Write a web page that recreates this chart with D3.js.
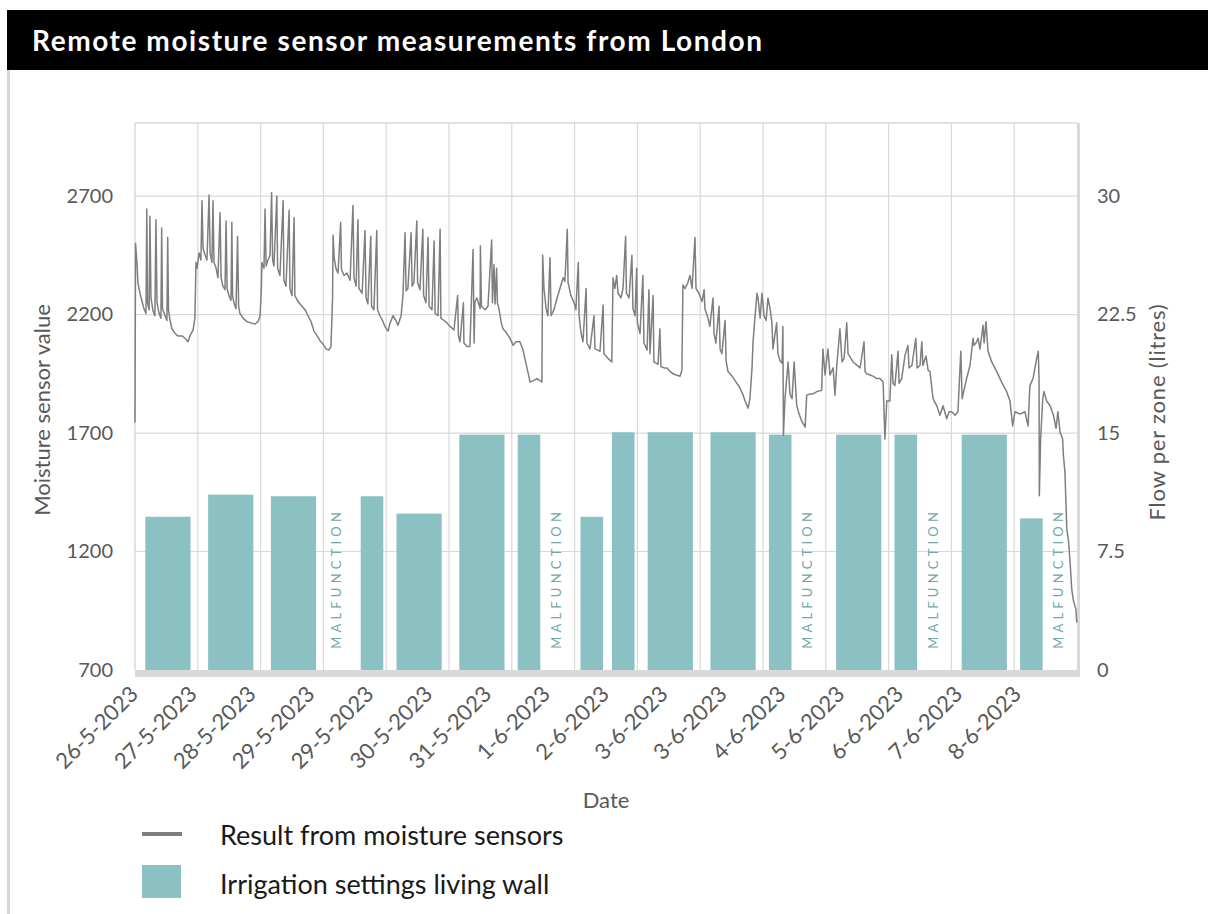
<!DOCTYPE html>
<html>
<head>
<meta charset="utf-8">
<script src="https://cdn.jsdelivr.net/npm/d3@7"></script>
<style>
  html, body { margin: 0; padding: 0; background: #ffffff; }
  svg { display: block; }
</style>
</head>
<body>
<svg id="chart" width="1208" height="914"></svg>
<script>
// ---------------- DATA ----------------
const chartTitle = "Remote moisture sensor measurements from London";
const leftTicks = [700, 1200, 1700, 2200, 2700];
const rightTicks = [0, 7.5, 15, 22.5, 30];
const rightTickLabels = ["0", "7.5", "15", "22.5", "30"];
const dateLabels = ["26-5-2023", "27-5-2023", "28-5-2023", "29-5-2023", "29-5-2023", "30-5-2023",
  "31-5-2023", "1-6-2023", "2-6-2023", "3-6-2023", "3-6-2023", "4-6-2023", "5-6-2023",
  "6-6-2023", "7-6-2023", "8-6-2023"];

// Moisture sensor readings: hours since 26-5-2023 00:00 and sensor value
const sensorHour = [
  0, 0.2, 0.8, 1.1, 1.9, 2.7, 3.4, 4.2, 4.5, 4.8, 5.4, 5.7, 6.1, 6.9, 7.6, 8.0, 8.4, 9.2, 9.9, 10.2,
  10.5, 11.5, 12.2, 12.5, 12.8, 13.4, 14.1, 15.3, 16.4, 18.0, 19.1, 20.3, 21.0, 22.2, 22.9, 23.3, 23.7,
  24.5, 25.2, 25.6, 26.0, 26.8, 27.5, 28.3, 28.7, 29.4, 29.8, 30.2, 31.0, 31.7, 32.5, 32.9, 33.6, 34.4,
  34.8, 35.2, 35.9, 36.7, 37.0, 37.3, 37.8, 38.6, 39.2, 39.6, 40.1, 41.3, 42.8, 44.3, 45.9, 47.0, 47.8,
  48.3, 48.5,
  49.3, 49.7, 50.1, 50.8, 51.6, 52.2, 52.6, 53.1, 54.2, 54.5, 55.4, 56.6, 56.9, 57.7, 58.9, 59.2, 60.0,
  60.8, 61.1, 62.3, 63.4, 65.0, 66.1, 67.3, 68.4, 69.6, 70.7, 71.9, 73.0, 74.1, 74.9, 75.5, 75.7,
  76.1, 76.8, 77.6, 78.6, 78.9, 79.9, 81.0, 82.2, 83.3, 83.7, 84.5, 85.2, 85.6, 86.8, 87.9, 88.3, 89.0,
  90.1, 90.4, 91.3, 92.4, 92.7, 93.6, 94.8, 95.5, 96.7, 97.5, 98.6, 99.7, 100.5, 101.7, 102.4,
  103.2, 103.6, 104.3, 105.5, 105.9, 106.6, 107.7, 108.0, 108.9, 110.0, 110.3, 111.2, 112.0, 112.4,
  113.5, 114.3, 114.7, 115.8, 116.6, 116.9, 118.1, 119.2, 120.4, 121.9, 123.3, 123.6, 124.2, 125.5,
  125.7, 126.9, 128.0, 129.2, 129.6, 129.9,
  130.7, 131.9, 132.0, 132.4, 133.8, 134.9, 136.3, 136.6, 137.2, 137.6, 138.2, 138.5, 139.1, 139.9,
  140.6, 141.8, 143.3, 144.5, 145.6, 147.1, 148.3, 149.8, 151.0, 152.1, 153.6, 154.8, 155.5, 155.8,
  156.3, 157.1, 157.8, 158.6, 159.0, 160.1, 161.3, 162.4, 163.6, 164.3, 165.2, 165.5, 166.6, 167.8,
  168.5, 169.4, 169.7, 170.5, 171.2, 172.4, 172.7, 173.9, 175.4, 175.8, 176.9, 177.7, 178.9, 179.2,
  180.0, 180.8, 182.2, 182.7,
  183.4, 184.1, 184.6, 185.7, 186.5, 187.5, 187.8, 188.8, 189.9, 190.3, 191.1, 191.7, 192.0, 193.0,
  194.1, 194.5, 195.7, 196.4, 196.8, 198.0, 198.3, 199.9, 200.6, 201.0, 202.2, 203.3, 204.5, 205.6,
  206.8, 208.3, 209.0, 209.4,
  210.2, 211.3, 212.1, 212.9, 214.0, 214.4, 215.5, 216.7, 217.5, 217.8, 219.0, 219.7, 220.9, 221.3,
  222.0, 223.2, 223.6, 224.3, 225.5, 225.9, 226.6, 228.2, 229.7, 231.2, 232.4, 233.5, 234.3, 235.0,
  235.8, 236.2, 236.9, 237.7, 238.1,
  238.9, 239.6, 240.4, 241.2, 241.9, 242.7, 243.4, 243.8, 245.2, 245.7, 246.5, 247.3, 247.6, 247.8,
  248.4, 249.6, 250.3, 251.1, 251.9, 252.9, 253.8, 254.8, 256.1, 256.7, 258.0, 259.1, 260.6, 262.4,
  262.9, 263.7, 264.8, 265.6, 266.8, 267.5, 268.2, 269.4, 270.2, 271.0, 272.0, 272.5, 274.4, 275.5,
  277.1, 278.6, 279.0, 279.6, 280.9, 282.0, 283.6, 284.7, 285.9, 286.6, 287.3, 288.5, 289.2, 289.7,
  290.4, 291.6, 292.0, 293.0, 294.3, 295.4, 295.8, 296.9, 298.4, 298.9, 300.0, 300.7, 301.1, 302.3,
  303.1, 303.8, 305.0, 306.4, 307.6, 308.8, 310.2, 311.1, 312.1, 313.4, 314.5, 315.6, 316.1, 317.8,
  319.1, 320.3, 320.6, 321.4, 322.2, 322.9, 324.1, 324.5, 325.2, 326.0, 327.4, 329.3, 331.2, 333.1,
  334.4, 335.4, 336.3, 338.2, 340.1, 341.3, 342.0, 343.2, 344.6, 345.2, 345.5, 345.6, 346.1, 346.9,
  347.4, 348.4, 349.7, 351.0, 352.0, 352.7, 353.5, 354.5, 354.8, 355.4, 356.1, 356.7, 357.3, 358.0,
  358.6, 359.6, 359.9
];
const sensorValue = [
  1745, 2500, 2410, 2335, 2290, 2255, 2225, 2205, 2645, 2250, 2220, 2615, 2270, 2215, 2195, 2600, 2250, 2205, 2185, 2565,
  2225, 2195, 2175, 2525, 2220, 2175, 2140, 2120, 2110, 2110, 2100, 2085, 2110, 2135, 2185, 2420, 2395,
  2460, 2430, 2680, 2480, 2450, 2430, 2705, 2460, 2420, 2680, 2420, 2395, 2355, 2630, 2355, 2320, 2305,
  2595, 2310, 2280, 2260, 2590, 2280, 2250, 2225, 2530, 2235, 2205, 2185, 2170, 2165, 2160, 2170, 2195,
  2310, 2420,
  2395, 2645, 2405, 2430, 2450, 2715, 2430, 2405, 2700, 2395, 2365, 2680, 2345, 2320, 2640, 2310, 2280,
  2610, 2280, 2255, 2240, 2220, 2195, 2170, 2130, 2110, 2090, 2075, 2055, 2050, 2065, 2270, 2535,
  2440, 2395, 2375, 2590, 2390, 2365, 2375, 2345, 2660, 2355, 2320, 2600, 2310, 2290, 2555, 2270, 2245,
  2530, 2235, 2220, 2555, 2220, 2195, 2170, 2150, 2130, 2165, 2195, 2175, 2155, 2195, 2280,
  2545, 2300, 2310, 2545, 2320, 2335, 2595, 2335, 2305, 2560, 2280, 2250, 2525, 2235,
  2220, 2510, 2205, 2195, 2560, 2185, 2175, 2165, 2150, 2135, 2280, 2110, 2085, 2250,
  2080, 2065, 2065, 2475, 2080, 2255,
  2270, 2225, 2490, 2235, 2220, 2235, 2515, 2250, 2410, 2245, 2395, 2250, 2225, 2170,
  2140, 2125, 2100, 2070, 2085, 2085, 2050, 1975, 1915, 1920, 1930, 1920, 1915, 2450,
  2310, 2225, 2195, 2440, 2195, 2220, 2270, 2310, 2355, 2340, 2560, 2335, 2280, 2250,
  2220, 2420, 2195, 2120, 2085, 2310, 2080, 2055, 2195, 2055, 2050, 2045, 2240, 2035,
  2025, 2015, 2000, 2355,
  2310, 2365, 2290, 2270, 2310, 2530, 2290, 2270, 2450, 2225, 2195, 2395, 2165, 2120,
  2365, 2080, 2050, 2305, 2035, 2280, 2000, 1990, 2140, 1980, 1975, 1975, 1960, 1950,
  1945, 1940, 1965, 2325,
  2310, 2335, 2365, 2310, 2525, 2310, 2290, 2255, 2305, 2225, 2185, 2150, 2270, 2120,
  2080, 2235, 2055, 2035, 2175, 2005, 1960, 1940, 1915, 1890, 1860, 1825, 1805, 1845,
  1975, 2085, 2185, 2290, 2270,
  2185, 2290, 2195, 2175, 2270, 2225, 2165, 2055, 2165, 2035, 2005, 1995, 2150, 1690,
  1845, 2000, 1865, 1845, 2000, 1815, 1780, 1750, 1725, 1860, 1865, 1865, 1875, 1880,
  2055, 1945, 2055, 1945, 1975, 1860, 1985, 2140, 2000, 2015, 2165, 2035, 2000, 1990,
  1975, 2085, 1960, 1950, 1945, 1940, 1930, 1930, 1915, 1675, 1835, 1835, 2030, 1910,
  1900, 2045, 1910, 1930, 2030, 2070, 1975, 1985, 2100, 1975, 1985, 2085, 1985, 2025,
  1965, 1960, 1845, 1815, 1775, 1815, 1760, 1790, 1790, 1775, 1790, 2045, 1845, 1930,
  1985, 2100, 2070, 2080, 2100, 2055, 2155, 2080, 2170, 2045, 2000, 1960, 1915, 1875,
  1835, 1730, 1790, 1780, 1790, 1730, 1900, 1930, 2015, 2045, 1930, 1435, 1675, 1845,
  1875, 1835, 1815, 1775, 1720, 1790, 1705, 1675, 1605, 1535, 1295, 1250, 1165, 1040,
  995, 955, 900
];

// Irrigation settings: bars laid out on half-day slots (slot 0 = morning of 26-5-2023)
const irrigationStartSlot = [0, 2, 4, 7, 8, 10, 12, 14, 15, 16, 18, 20, 22, 24, 26, 28];
const irrigationSlotSpan  = [2, 2, 2, 1, 2, 2, 1, 1, 1, 2, 2, 1, 2, 1, 2, 1];
const irrigationFlow      = [9.7, 11.1, 11.0, 11.0, 9.9, 14.9, 14.9, 9.7, 15.05, 15.05, 15.05, 14.9, 14.9, 14.9, 14.9, 9.6];
const malfunctionSlot = [6, 13, 21, 25, 29];
const malfunctionText = "MALFUNCTION";

const legendLabels = ["Result from moisture sensors", "Irrigation settings living wall"];

// ---------------- LAYOUT ----------------
const W = 1208, H = 914;
const plot = { left: 135, right: 1077, top: 125, bottom: 670 };
const totalHours = 360, slotCount = 30, dayCount = 15;
const FONT = "Lato, 'Open Sans', sans-serif";
const AXIS_TEXT = "#595959";
const GRID = "#d9d9d9";
const BAR = "#8cc1c3";
const LINE = "#7f7f7f";

const svg = d3.select("#chart");

// frame: title bar and left border
svg.append("rect").attr("x", 7).attr("y", 10).attr("width", W - 7).attr("height", 60).attr("fill", "#000");
svg.append("text").attr("x", 32).attr("y", 51)
  .attr("fill", "#fff").attr("font-family", "Lato, 'DejaVu Sans', sans-serif")
  .attr("font-weight", 700).attr("font-size", 28)
  .attr("textLength", 730).attr("lengthAdjust", "spacing").text(chartTitle);
svg.append("rect").attr("x", 7).attr("y", 70).attr("width", 3).attr("height", H - 70).attr("fill", "#d6d6d6");

// scales
const x = d3.scaleLinear().domain([0, totalHours]).range([plot.left, plot.right]);
const yL = d3.scaleLinear().domain([700, 3000]).range([plot.bottom, plot.top]);
const yR = d3.scaleLinear().domain([0, 34.5]).range([plot.bottom, plot.top]);
const slot = d3.scaleBand().domain(d3.range(slotCount)).range([plot.left, plot.right]);
const labelPos = d3.scaleBand().domain(d3.range(dateLabels.length)).range([plot.left, plot.right]);

// gridlines
const g = svg.append("g");
g.selectAll(".hgrid").data(leftTicks.filter(t => t > 700)).join("line")
  .attr("x1", plot.left).attr("x2", plot.right)
  .attr("y1", d => yL(d)).attr("y2", d => yL(d))
  .attr("stroke", GRID).attr("stroke-width", 1.2);
g.selectAll(".vgrid").data(d3.range(1, dayCount)).join("line")
  .attr("x1", d => x(d * 24)).attr("x2", d => x(d * 24))
  .attr("y1", plot.top - 2).attr("y2", plot.bottom)
  .attr("stroke", GRID).attr("stroke-width", 1.2);
// plot border (top, left) and shadowed bottom/right
g.append("line").attr("x1", plot.left).attr("x2", plot.right).attr("y1", plot.top - 2).attr("y2", plot.top - 2).attr("stroke", GRID).attr("stroke-width", 1.5);
g.append("line").attr("x1", plot.left).attr("x2", plot.left).attr("y1", plot.top - 2).attr("y2", plot.bottom).attr("stroke", GRID).attr("stroke-width", 1.5);
g.append("rect").attr("x", plot.right).attr("y", plot.top - 2).attr("width", 3).attr("height", plot.bottom - plot.top + 9).attr("fill", GRID);

// bars
const bars = irrigationStartSlot.map((s, i) => ({ s, span: irrigationSlotSpan[i], v: irrigationFlow[i] }));
g.selectAll(".bar").data(bars).join("rect")
  .attr("x", d => slot(d.s) + slot.bandwidth() * d.span * 0.14 + 1.5)
  .attr("width", d => slot.bandwidth() * d.span * 0.72)
  .attr("y", d => yR(d.v))
  .attr("height", d => yR(0) - yR(d.v))
  .attr("fill", BAR);

// malfunction labels
g.selectAll(".malf").data(malfunctionSlot).join("text")
  .attr("transform", d => `translate(${slot(d) + slot.bandwidth() / 2 + 2},${yR(5.8)}) rotate(-90)`)
  .attr("text-anchor", "middle")
  .attr("font-family", FONT).attr("font-size", 13).attr("letter-spacing", 4.2)
  .attr("fill", "#6fa9ac").text(malfunctionText);

// bottom axis band
g.append("rect").attr("x", plot.left).attr("y", plot.bottom).attr("width", plot.right - plot.left + 3).attr("height", 7).attr("fill", GRID);

// sensor line
const pts = sensorHour.map((h, i) => [h, sensorValue[i]]);
g.append("path").datum(pts)
  .attr("d", d3.line().x(d => x(d[0])).y(d => yL(d[1])))
  .attr("fill", "none").attr("stroke", LINE).attr("stroke-width", 1.5).attr("stroke-linejoin", "round");

// left axis
const axL = svg.append("g").attr("transform", `translate(${plot.left},0)`)
  .call(d3.axisLeft(yL).tickValues(leftTicks).tickFormat(d3.format("d")).tickSize(0).tickPadding(22));
axL.select(".domain").remove();
axL.selectAll("text").attr("font-family", FONT).attr("font-size", 20).attr("fill", AXIS_TEXT);

// right axis
const axR = svg.append("g").attr("transform", `translate(${plot.right},0)`)
  .call(d3.axisRight(yR).tickValues(rightTicks).tickFormat((d, i) => rightTickLabels[i]).tickSize(0).tickPadding(20));
axR.select(".domain").remove();
axR.selectAll("text").attr("font-family", FONT).attr("font-size", 20).attr("fill", AXIS_TEXT);

// date labels
svg.selectAll(".dl").data(dateLabels).join("text")
  .attr("transform", (d, i) => `translate(${labelPos(i) - 1},${plot.bottom + 20}) rotate(-45)`)
  .attr("text-anchor", "end").attr("dy", "0.35em")
  .attr("font-family", FONT).attr("font-size", 22).attr("fill", AXIS_TEXT)
  .text(d => d);

// axis titles
svg.append("text").attr("transform", `translate(50,410) rotate(-90)`).attr("text-anchor", "middle")
  .attr("font-family", FONT).attr("font-size", 22).attr("fill", AXIS_TEXT).text("Moisture sensor value");
svg.append("text").attr("transform", `translate(1165,412) rotate(-90)`).attr("text-anchor", "middle")
  .attr("font-family", FONT).attr("font-size", 22).attr("letter-spacing", 0.8).attr("fill", AXIS_TEXT).text("Flow per zone (litres)");
svg.append("text").attr("x", 606).attr("y", 808).attr("text-anchor", "middle")
  .attr("font-family", FONT).attr("font-size", 22).attr("fill", AXIS_TEXT).text("Date");

// legend
const lg = svg.append("g");
lg.append("line").attr("x1", 142).attr("x2", 182).attr("y1", 834).attr("y2", 834).attr("stroke", LINE).attr("stroke-width", 4);
lg.append("text").attr("x", 220).attr("y", 845).attr("font-family", FONT).attr("font-size", 27).attr("fill", "#1a1a1a").text(legendLabels[0]);
lg.append("rect").attr("x", 142).attr("y", 865).attr("width", 39).attr("height", 33).attr("fill", BAR);
lg.append("text").attr("x", 220).attr("y", 894).attr("font-family", FONT).attr("font-size", 27).attr("fill", "#1a1a1a").text(legendLabels[1]);
</script>
</body>
</html>
